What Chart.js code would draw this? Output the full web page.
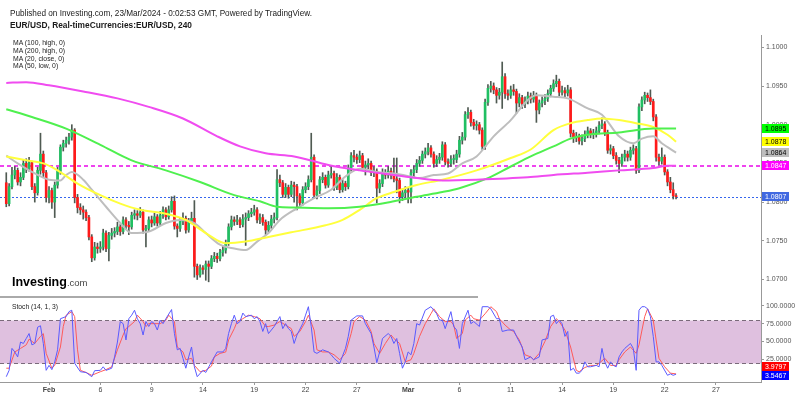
<!DOCTYPE html>
<html lang="en">
<head>
<meta charset="UTF-8">
<title>EUR/USD 240</title>
<script src="https://cdn.jsdelivr.net/npm/chart.js@4.4.1/dist/chart.umd.min.js"></script>
<style>
  html, body { margin: 0; padding: 0; background: #fff; }
  #wrap { position: relative; width: 800px; height: 397px; overflow: hidden; font-family: "Liberation Sans", Arial, sans-serif; }
  canvas { position: absolute; left: 0; }
  #priceChart { top: 0; }
  #stochChart { top: 297px; }
  .txt { position: absolute; white-space: nowrap; color: #1a1a1a; transform-origin: 0 0; z-index: 2; }
  #pub { left: 10px; top: 9px; font-size: 9px; line-height: 9px; }
  #ttl { left: 10px; top: 20px; font-size: 9.5px; line-height: 10px; font-weight: bold; }
  #mas { left: 13px; top: 39.4px; font-size: 8px; line-height: 7.6px; color: #222; }
  #stl { left: 12px; top: 302.7px; font-size: 8px; line-height: 8px; color: #222; }
  #logo { left: 12px; top: 275.7px; font-size: 12.5px; line-height: 13px; font-weight: bold; color: #000; }
  #logo span { font-weight: normal; font-size: 9.5px; color: #444; }
  #sep { position: absolute; left: 0; top: 296px; width: 478px; height: 1.5px; background: #aaa; z-index: 2; }
</style>
</head>
<body>
<div id="wrap">
  <canvas id="priceChart" width="800" height="297"></canvas>
  <canvas id="stochChart" width="800" height="100"></canvas>
  <div id="sep"></div>
  <div class="txt" id="pub" data-w="302">Published on Investing.com, 23/Mar/2024 - 0:02:53 GMT, Powered by TradingView.</div>
  <div class="txt" id="ttl" data-w="182">EUR/USD, Real-timeCurrencies:EUR/USD, 240</div>
  <div class="txt" id="mas" data-w="52">MA (100, high, 0)<br>MA (200, high, 0)<br>MA (20, close, 0)<br>MA (50, low, 0)</div>
  <div class="txt" id="stl" data-w="46">Stoch (14, 1, 3)</div>
  <div class="txt" id="logo">Investing<span>.com</span></div>
</div>
<script>
// ---- data: 4h bars, index 0 = 29 Jan 16:00 ----
var tickBars = [15, 33, 51, 69, 87, 105, 123, 141, 159, 177, 195, 213, 231, 249];
var tickLabels = ['Feb', '6', '9', '14', '19', '22', '27', 'Mar', '6', '11', '14', '19', '22', '27'];
var priceTicks = [1.0700, 1.0750, 1.0800, 1.0850, 1.0900, 1.0950, 1.1000];
var stochTicks = [25, 50, 75, 100];
var stochBand = [20, 80];

var opens = [
  1.0825,1.0798,1.0820,1.0835,1.0841,1.0826,1.0832,1.0850,1.0843,1.0851,
  1.0820,1.0812,1.0841,1.0862,1.0838,1.0806,1.0815,1.0800,1.0822,1.0840,
  1.0871,1.0876,1.0880,1.0884,1.0893,1.0806,1.0793,1.0790,1.0787,1.0780,
  1.0755,1.0728,1.0742,1.0740,1.0742,1.0760,1.0740,1.0757,1.0760,1.0762,
  1.0768,1.0762,1.0777,1.0770,1.0768,1.0783,1.0785,1.0783,1.0787,1.0764,
  1.0766,1.0777,1.0773,1.0781,1.0773,1.0783,1.0790,1.0781,1.0790,1.0801,
  1.0769,1.0766,1.0775,1.0779,1.0764,1.0775,1.0779,1.0717,1.0706,1.0715,
  1.0713,1.0720,1.0717,1.0727,1.0730,1.0727,1.0735,1.0738,1.0747,1.0768,
  1.0777,1.0775,1.0777,1.0771,1.0778,1.0780,1.0785,1.0787,1.0790,1.0777,
  1.0780,1.0774,1.0764,1.0770,1.0778,1.0780,1.0829,1.0825,1.0810,1.0819,
  1.0810,1.0822,1.0820,1.0808,1.0799,1.0816,1.0820,1.0829,1.0858,1.0809,
  1.0815,1.0829,1.0832,1.0822,1.0835,1.0837,1.0819,1.0832,1.0816,1.0824,
  1.0820,1.0844,1.0860,1.0858,1.0855,1.0860,1.0845,1.0848,1.0850,1.0838,
  1.0840,1.0818,1.0824,1.0838,1.0835,1.0840,1.0835,1.0830,1.0828,1.0807,
  1.0812,1.0815,1.0813,1.0838,1.0842,1.0850,1.0854,1.0862,1.0865,1.0870,
  1.0862,1.0850,1.0855,1.0858,1.0874,1.0852,1.0850,1.0855,1.0855,1.0862,
  1.0880,1.0884,1.0913,1.0916,1.0903,1.0899,1.0900,1.0893,1.0872,1.0929,
  1.0947,1.0950,1.0945,1.0938,1.0942,1.0962,1.0940,1.0938,1.0945,1.0943,
  1.0928,1.0935,1.0927,1.0931,1.0937,1.0933,1.0938,1.0919,1.0928,1.0931,
  1.0934,1.0940,1.0947,1.0953,1.0956,1.0942,1.0944,1.0941,1.0945,1.0889,
  1.0883,1.0884,1.0879,1.0882,1.0887,1.0892,1.0888,1.0888,1.0892,1.0899,
  1.0901,1.0890,1.0867,1.0869,1.0860,1.0854,1.0850,1.0858,1.0862,1.0858,
  1.0867,1.0869,1.0841,1.0923,1.0932,1.0938,1.0935,1.0930,1.0910,1.0858,
  1.0853,1.0858,1.0839,1.0826,1.0816,1.0808
];
var highs = [
  1.0838,1.0824,1.0845,1.0846,1.0844,1.0838,1.0854,1.0856,1.0858,1.0853,
  1.0824,1.0845,1.0889,1.0866,1.0841,1.0820,1.0818,1.0826,1.0845,1.0874,
  1.0880,1.0884,1.0889,1.0900,1.0895,1.0810,1.0798,1.0795,1.0790,1.0783,
  1.0758,1.0748,1.0747,1.0749,1.0765,1.0763,1.0761,1.0766,1.0767,1.0774,
  1.0771,1.0781,1.0780,1.0775,1.0787,1.0790,1.0789,1.0793,1.0790,1.0770,
  1.0781,1.0782,1.0786,1.0784,1.0788,1.0794,1.0793,1.0795,1.0807,1.0808,
  1.0772,1.0779,1.0786,1.0782,1.0779,1.0787,1.0802,1.0720,1.0719,1.0718,
  1.0724,1.0724,1.0731,1.0735,1.0734,1.0739,1.0743,1.0751,1.0772,1.0782,
  1.0781,1.0783,1.0780,1.0784,1.0786,1.0789,1.0792,1.0796,1.0793,1.0785,
  1.0784,1.0777,1.0775,1.0783,1.0786,1.0842,1.0835,1.0828,1.0824,1.0822,
  1.0827,1.0826,1.0823,1.0811,1.0820,1.0825,1.0834,1.0889,1.0861,1.0821,
  1.0833,1.0838,1.0835,1.0840,1.0846,1.0840,1.0837,1.0835,1.0829,1.0827,
  1.0848,1.0864,1.0867,1.0862,1.0866,1.0863,1.0853,1.0856,1.0853,1.0846,
  1.0843,1.0829,1.0843,1.0842,1.0846,1.0844,1.0857,1.0857,1.0831,1.0817,
  1.0820,1.0819,1.0842,1.0847,1.0855,1.0859,1.0866,1.0870,1.0876,1.0873,
  1.0865,1.0860,1.0863,1.0878,1.0877,1.0856,1.0860,1.0861,1.0867,1.0885,
  1.0890,1.0917,1.0922,1.0919,1.0907,1.0905,1.0903,1.0896,1.0933,1.0952,
  1.0956,1.0954,1.0948,1.0947,1.0981,1.0966,1.0945,1.0950,1.0952,1.0946,
  1.0940,1.0938,1.0936,1.0942,1.0941,1.0943,1.0941,1.0932,1.0936,1.0939,
  1.0945,1.0951,1.0958,1.0964,1.0959,1.0950,1.0948,1.0951,1.0948,1.0893,
  1.0890,1.0888,1.0887,1.0892,1.0897,1.0895,1.0894,1.0897,1.0904,1.0909,
  1.0904,1.0893,1.0874,1.0872,1.0864,1.0858,1.0862,1.0867,1.0866,1.0871,
  1.0874,1.0872,1.0927,1.0936,1.0942,1.0941,1.0945,1.0933,1.0913,1.0862,
  1.0870,1.0861,1.0842,1.0832,1.0825,1.0811
];
var lows = [
  1.0794,1.0795,1.0817,1.0830,1.0822,1.0821,1.0829,1.0838,1.0840,1.0816,
  1.0800,1.0809,1.0836,1.0833,1.0800,1.0799,1.0792,1.0780,1.0818,1.0836,
  1.0866,1.0871,1.0875,1.0880,1.0799,1.0786,1.0784,1.0778,1.0776,1.0751,
  1.0723,1.0725,1.0734,1.0735,1.0738,1.0736,1.0724,1.0752,1.0755,1.0758,
  1.0757,1.0759,1.0765,1.0758,1.0765,1.0778,1.0777,1.0780,1.0760,1.0742,
  1.0763,1.0768,1.0770,1.0769,1.0770,1.0779,1.0777,1.0778,1.0787,1.0765,
  1.0755,1.0762,1.0771,1.0760,1.0761,1.0772,1.0703,1.0700,1.0703,1.0707,
  1.0699,1.0697,1.0714,1.0723,1.0722,1.0724,1.0730,1.0734,1.0744,1.0764,
  1.0770,1.0771,1.0767,1.0768,1.0744,1.0776,1.0781,1.0783,1.0773,1.0772,
  1.0770,1.0758,1.0761,1.0766,1.0773,1.0777,1.0820,1.0806,1.0806,1.0805,
  1.0807,1.0800,1.0790,1.0795,1.0796,1.0812,1.0816,1.0826,1.0805,1.0804,
  1.0811,1.0825,1.0818,1.0819,1.0831,1.0815,1.0816,1.0812,1.0813,1.0815,
  1.0817,1.0840,1.0852,1.0850,1.0851,1.0841,1.0835,1.0843,1.0834,1.0833,
  1.0799,1.0812,1.0820,1.0830,1.0831,1.0830,1.0826,1.0812,1.0799,1.0802,
  1.0806,1.0799,1.0799,1.0833,1.0838,1.0846,1.0850,1.0857,1.0861,1.0858,
  1.0845,1.0846,1.0850,1.0854,1.0848,1.0845,1.0846,1.0849,1.0851,1.0858,
  1.0875,1.0880,1.0908,1.0898,1.0894,1.0893,1.0888,1.0868,1.0868,1.0925,
  1.0942,1.0940,1.0928,1.0933,1.0921,1.0934,1.0932,1.0934,1.0938,1.0915,
  1.0923,1.0921,1.0922,1.0927,1.0928,1.0929,1.0903,1.0914,1.0923,1.0926,
  1.0930,1.0936,1.0943,1.0949,1.0937,1.0938,1.0936,1.0937,1.0884,1.0877,
  1.0878,1.0875,1.0874,1.0878,1.0883,1.0883,1.0882,1.0884,1.0888,1.0895,
  1.0886,1.0863,1.0862,1.0856,1.0849,1.0838,1.0846,1.0853,1.0853,1.0854,
  1.0862,1.0837,1.0838,1.0918,1.0927,1.0930,1.0926,1.0905,1.0853,1.0848,
  1.0849,1.0835,1.0821,1.0812,1.0804,1.0804
];
var closes = [
  1.0798,1.0820,1.0835,1.0841,1.0826,1.0832,1.0850,1.0843,1.0851,1.0820,
  1.0812,1.0841,1.0862,1.0838,1.0806,1.0815,1.0800,1.0822,1.0840,1.0871,
  1.0876,1.0880,1.0884,1.0893,1.0806,1.0793,1.0790,1.0787,1.0780,1.0755,
  1.0728,1.0742,1.0740,1.0742,1.0760,1.0740,1.0757,1.0760,1.0762,1.0768,
  1.0762,1.0777,1.0770,1.0768,1.0783,1.0785,1.0783,1.0787,1.0764,1.0766,
  1.0777,1.0773,1.0781,1.0773,1.0783,1.0790,1.0781,1.0790,1.0801,1.0769,
  1.0766,1.0775,1.0779,1.0764,1.0775,1.0779,1.0717,1.0706,1.0715,1.0713,
  1.0720,1.0717,1.0727,1.0730,1.0727,1.0735,1.0738,1.0747,1.0768,1.0777,
  1.0775,1.0777,1.0771,1.0778,1.0780,1.0785,1.0787,1.0790,1.0777,1.0780,
  1.0774,1.0764,1.0770,1.0778,1.0780,1.0829,1.0825,1.0810,1.0819,1.0810,
  1.0822,1.0820,1.0808,1.0799,1.0816,1.0820,1.0829,1.0858,1.0809,1.0815,
  1.0829,1.0832,1.0822,1.0835,1.0837,1.0819,1.0832,1.0816,1.0824,1.0820,
  1.0844,1.0860,1.0858,1.0855,1.0860,1.0845,1.0848,1.0850,1.0838,1.0840,
  1.0818,1.0824,1.0838,1.0835,1.0840,1.0835,1.0830,1.0828,1.0807,1.0812,
  1.0815,1.0813,1.0838,1.0842,1.0850,1.0854,1.0862,1.0865,1.0870,1.0862,
  1.0850,1.0855,1.0858,1.0874,1.0852,1.0850,1.0855,1.0855,1.0862,1.0880,
  1.0884,1.0913,1.0916,1.0903,1.0899,1.0900,1.0893,1.0872,1.0929,1.0947,
  1.0950,1.0945,1.0938,1.0942,1.0962,1.0940,1.0938,1.0945,1.0943,1.0928,
  1.0935,1.0927,1.0931,1.0937,1.0933,1.0938,1.0919,1.0928,1.0931,1.0934,
  1.0940,1.0947,1.0953,1.0956,1.0942,1.0944,1.0941,1.0945,1.0889,1.0883,
  1.0884,1.0879,1.0882,1.0887,1.0892,1.0888,1.0888,1.0892,1.0899,1.0901,
  1.0890,1.0867,1.0869,1.0860,1.0854,1.0850,1.0858,1.0862,1.0858,1.0867,
  1.0869,1.0841,1.0923,1.0932,1.0938,1.0935,1.0930,1.0910,1.0858,1.0853,
  1.0858,1.0839,1.0826,1.0816,1.0808,1.0807
];

// moving averages as [bar, value]
var ma100 = [[0,1.0920],[9,1.0910],[21,1.0895],[33,1.0874],[44,1.0854],[56,1.0841],[68,1.0826],[80,1.0809],
  [89,1.0801],[95,1.0794],[101,1.0793],[113,1.0792],[124,1.0794],[136,1.0801],[144,1.0807],[153,1.0813],
  [159,1.0818],[169,1.0831],[177,1.0846],[184,1.0859],[192,1.0872],[198,1.0882],[204,1.0887],[215,1.0890],
  [227,1.0895],[235,1.0895]];
var ma200 = [[0,1.0954],[7,1.0955],[15,1.0951],[27,1.0943],[39,1.0934],[50,1.0923],[62,1.0908],[74,1.0885],
  [82,1.0872],[91,1.0863],[101,1.0859],[113,1.0848],[124,1.0841],[136,1.0835],[144,1.0831],[153,1.0828],
  [165,1.0829],[183,1.0832],[192,1.0835],[204,1.0838],[215,1.0841],[227,1.0844],[232,1.0847],[235,1.0847]];
var ma20 = [[0,1.0860],[4,1.0850],[9,1.0839],[15,1.0829],[19,1.0828],[21,1.0835],[23,1.0839],[27,1.0829],
  [30,1.0816],[35,1.0794],[40,1.0773],[44,1.0760],[50,1.0762],[56,1.0773],[61,1.0777],[66,1.0773],[70,1.0760],
  [75,1.0745],[80,1.0740],[84,1.0738],[88,1.0749],[92,1.0760],[96,1.0777],[102,1.0792],[108,1.0805],
  [114,1.0816],[119,1.0833],[124,1.0843],[130,1.0839],[136,1.0837],[142,1.0833],[145,1.0831],[150,1.0835],
  [155,1.0837],[160,1.0850],[165,1.0859],[171,1.0885],[177,1.0906],[183,1.0932],[186,1.0938],[192,1.0936],
  [197,1.0934],[204,1.0921],[209,1.0913],[215,1.0885],[220,1.0876],[223,1.0882],[227,1.0885],[230,1.0876],
  [235,1.0864]];
var ma50 = [[0,1.0859],[7,1.0854],[13,1.0850],[18,1.0841],[25,1.0824],[33,1.0809],[40,1.0798],[47,1.0790],
  [56,1.0785],[63,1.0777],[70,1.0760],[77,1.0747],[84,1.0749],[92,1.0755],[100,1.0761],[112,1.0770],
  [118,1.0777],[124,1.0790],[130,1.0805],[136,1.0813],[144,1.0822],[153,1.0829],[165,1.0841],[177,1.0857],
  [184,1.0868],[192,1.0893],[198,1.0902],[204,1.0906],[209,1.0908],[215,1.0906],[221,1.0902],[227,1.0897],
  [232,1.0887],[235,1.0878]];

// stochastic (14, 1, 3): %K and %D as [bar, value]
var stochK = [[0,0],[1,9],[2,40],[3,35],[4,28],[5,49],[6,47],[7,54],[8,61],[9,45],[10,47],[11,70],[12,72],
  [13,47],[14,9],[15,16],[16,10],[17,21],[18,38],[19,82],[21,85],[22,92],[23,94],[24,19],[26,7],[28,6],
  [30,0],[31,8.5],[33,9],[34,14],[35,9],[37,12],[38,28],[39,49],[40,78],[41,75],[42,52],[43,82],[44,87],
  [45,94],[46,82],[47,75],[48,59],[49,78],[50,71],[51,78],[52,75],[53,66],[54,80],[55,75],[56,82],[58,95],
  [59,61],[60,38],[61,40],[62,26],[63,12],[64,28],[65,42],[66,14],[67,0],[69,9],[70,6],[72,21],[73,28],
  [74,35],[76,35],[77,40],[78,61],[79,75],[80,87],[81,75],[82,78],[83,90],[84,85],[86,87],[87,82],[88,85],
  [89,78],[90,64],[91,75],[92,61],[94,71],[95,78],[96,85],[97,68],[98,75],[99,68],[100,64],[101,47],[102,59],
  [104,75],[105,87],[106,99],[107,71],[108,35],[109,33],[111,38],[113,35],[114,31],[115,26],[117,19],
  [119,40],[120,57],[121,80],[123,86],[125,86],[126,75],[128,61],[129,42],[130,20],[131,35],[132,54],
  [134,61],[135,57],[136,47],[137,54],[138,33],[139,12],[140,21],[141,35],[142,31],[143,47],[144,75],
  [145,73],[147,94],[149,99],[151,89],[152,80],[153,80],[154,68],[156,92],[157,71],[158,66],[159,40],
  [160,75],[162,94],[163,75],[164,78],[166,71],[167,99],[169,99],[170,96],[172,82],[173,82],[174,64],
  [176,66],[178,66],[179,57],[181,42],[182,24],[184,28],[185,24],[187,28],[188,52],[190,54],[191,85],
  [192,87],[193,75],[194,80],[195,75],[196,57],[197,64],[198,9],[199,12],[200,5],[201,5],[202,9],[203,21],
  [204,14],[205,14],[207,16],[208,14],[209,40],[210,21],[211,12],[212,21],[213,16],[214,14],[215,28],
  [216,35],[217,40],[219,47],[220,40],[221,9],[222,94],[223,99],[224,99],[225,96],[226,85],[227,57],
  [228,21],[229,21],[230,16],[232,2],[233,4],[234,2],[235,3.5467]];
var stochD = [[0,12],[1,12],[3,35],[5,40],[7,45],[8,53],[10,47],[12,57],[13,61],[14,33],[16,12],[17,16],
  [19,42],[20,71],[21,87],[23,92],[24,85],[25,38],[26,9],[28,6],[30,2],[33,7],[35,10],[37,14],[39,38],
  [41,59],[42,68],[43,71],[45,78],[46,87],[48,78],[49,71],[50,75],[52,75],[54,75],[56,80],[57,87],[59,78],
  [60,42],[62,35],[63,24],[65,26],[66,16],[68,7],[70,9],[72,15],[73,28],[75,33],[77,35],[78,52],[80,68],
  [81,78],[83,82],[85,87],[87,85],[89,82],[91,71],[92,71],[94,73],[96,78],[98,73],[100,68],[101,57],
  [103,64],[105,78],[106,87],[108,66],[109,38],[111,35],[113,35],[115,31],[117,24],[119,33],[121,61],
  [122,78],[124,85],[126,80],[128,64],[129,47],[131,33],[133,47],[135,59],[136,54],[138,47],[140,21],
  [142,24],[143,33],[145,57],[147,75],[149,89],[150,96],[152,85],[154,78],[156,78],[157,73],[158,54],
  [160,61],[161,80],[163,87],[164,82],[166,80],[168,89],[170,99],[172,92],[173,82],[175,73],[177,66],
  [178,64],[180,52],[182,31],[184,28],[185,24],[187,33],[189,50],[191,71],[193,82],[194,78],[196,66],
  [198,42],[200,9],[201,7],[203,13],[205,16],[207,16],[208,19],[210,26],[212,16],[214,16],[215,24],
  [217,35],[219,42],[221,33],[222,45],[224,85],[225,96],[227,80],[228,52],[229,26],[231,14],[233,5],
  [235,3.9797]];

// ---- styling ----
var UP = '#20bf62', DOWN = '#ff1a1a', WICK = '#4f5a52';
var FONT = '"Liberation Sans", Arial, sans-serif';
var X_MIN = -2.2, X_MAX = 264.8;

function pts(list) {
  return list.map(function (p) { return {x: p[0], y: p[1]}; });
}
function last(list) { return list[list.length - 1][1]; }

function maLine(list, color) {
  return {
    type: 'line', data: pts(list), borderColor: color, borderWidth: 2,
    pointRadius: 0, cubicInterpolationMode: 'monotone', order: 0
  };
}

function drawTag(ctx, x, y, bg, fg, text) {
  ctx.fillStyle = bg;
  ctx.fillRect(x, Math.round(y - 4.5), 27, 9);
  ctx.fillStyle = fg;
  ctx.font = '7px ' + FONT;
  ctx.textBaseline = 'middle';
  ctx.textAlign = 'left';
  ctx.fillText(text, x + 3, y + 0.5);
}

// no edge padding: keep the plot area exactly where the canvas puts it
function noPad(s) {
  s.paddingTop = 0; s.paddingBottom = 0; s.paddingLeft = 0; s.paddingRight = 0;
}

var priceDecor = {
  id: 'priceDecor',
  beforeDatasetsDraw: function (chart) {
    var ctx = chart.ctx, a = chart.chartArea, y = chart.scales.y;
    ctx.save();
    var ym = Math.round(y.getPixelForValue(last(ma200)));
    ctx.strokeStyle = '#ee44ee';
    ctx.lineWidth = 2;
    ctx.setLineDash([4, 3]);
    ctx.beginPath(); ctx.moveTo(a.left, ym); ctx.lineTo(a.right, ym); ctx.stroke();
    var yc = Math.round(y.getPixelForValue(closes[closes.length - 1])) + 0.5;
    ctx.strokeStyle = '#3566ee';
    ctx.lineWidth = 1;
    ctx.setLineDash([2, 2]);
    ctx.beginPath(); ctx.moveTo(a.left, yc); ctx.lineTo(a.right, yc); ctx.stroke();
    ctx.restore();
  },
  afterDraw: function (chart) {
    var ctx = chart.ctx, a = chart.chartArea, y = chart.scales.y;
    ctx.save();
    drawTag(ctx, a.right + 1, y.getPixelForValue(last(ma100)), '#00ff00', '#000', last(ma100).toFixed(4));
    drawTag(ctx, a.right + 1, y.getPixelForValue(last(ma50)), '#ffff00', '#000', last(ma50).toFixed(4));
    drawTag(ctx, a.right + 1, y.getPixelForValue(last(ma20)), '#bdbdbd', '#000', last(ma20).toFixed(4));
    drawTag(ctx, a.right + 1, y.getPixelForValue(last(ma200)), '#ff00ff', '#fff', last(ma200).toFixed(4));
    var c = closes[closes.length - 1];
    drawTag(ctx, a.right + 1, y.getPixelForValue(c), '#4169e1', '#fff', c.toFixed(4));
    ctx.restore();
  }
};

var stochDecor = {
  id: 'stochDecor',
  beforeDatasetsDraw: function (chart) {
    var ctx = chart.ctx, a = chart.chartArea, y = chart.scales.y;
    var yt = Math.round(y.getPixelForValue(stochBand[1])) + 0.5;
    var yb = Math.round(y.getPixelForValue(stochBand[0])) + 0.5;
    ctx.save();
    ctx.fillStyle = '#dfc0df';
    ctx.fillRect(a.left, yt, a.right - a.left, yb - yt);
    ctx.strokeStyle = '#7a6a7a';
    ctx.lineWidth = 1;
    ctx.setLineDash([4, 3]);
    ctx.beginPath();
    ctx.moveTo(a.left, yt); ctx.lineTo(a.right, yt);
    ctx.moveTo(a.left, yb); ctx.lineTo(a.right, yb);
    ctx.stroke();
    ctx.restore();
  },
  afterDraw: function (chart) {
    var ctx = chart.ctx, a = chart.chartArea, y = chart.scales.y;
    var k = last(stochK), d = last(stochD);
    var yk = y.getPixelForValue(k) + 1.5;
    ctx.save();
    drawTag(ctx, a.right + 1, yk, '#0000ff', '#fff', k.toFixed(4));
    drawTag(ctx, a.right + 1, yk - 9, '#ff0000', '#fff', d.toFixed(4));
    ctx.restore();
  }
};

function rightAxis(min, max, ticks) {
  return {
    position: 'right', min: min, max: max,
    afterFit: function (s) { s.width = 39; noPad(s); },
    afterBuildTicks: function (s) { s.ticks = ticks.map(function (v) { return {value: v}; }); },
    grid: {drawOnChartArea: false, drawTicks: true, tickLength: 3, color: '#999'},
    border: {display: true, color: '#999'},
    ticks: {
      padding: 2, color: '#555', font: {family: FONT, size: 7},
      callback: function (v) { return Number(v).toFixed(4); }
    }
  };
}

var baseOptions = {
  responsive: false, animation: false, devicePixelRatio: 1, events: [],
  plugins: {legend: {display: false}, tooltip: {enabled: false}}
};

var bodyData = closes.map(function (c, i) { return {x: i, y: [opens[i], c]}; });
var wickData = closes.map(function (c, i) { return {x: i, y: [lows[i], highs[i]]}; });
var bodyColors = closes.map(function (c, i) { return c >= opens[i] ? UP : DOWN; });

new Chart(document.getElementById('priceChart').getContext('2d'), {
  type: 'bar',
  data: {
    datasets: [
      maLine(ma200, '#f04cf0'),
      maLine(ma100, '#4ff04f'),
      maLine(ma50, '#ffff3c'),
      maLine(ma20, '#bebebe'),
      {type: 'bar', data: bodyData, backgroundColor: bodyColors, barThickness: 2, grouped: false,
        minBarLength: 1, borderWidth: 0, order: 2},
      {type: 'bar', data: wickData, backgroundColor: WICK, barThickness: 1, grouped: false,
        borderWidth: 0, order: 3}
    ]
  },
  options: Object.assign({}, baseOptions, {
    layout: {padding: {top: 35, left: 0, right: 0, bottom: 0}},
    scales: {
      x: {type: 'linear', min: X_MIN, max: X_MAX, offset: false, display: false},
      y: rightAxis(1.06774, 1.10159, priceTicks)
    }
  }),
  plugins: [priceDecor]
});

new Chart(document.getElementById('stochChart').getContext('2d'), {
  type: 'line',
  data: {
    datasets: [
      {data: pts(stochK), borderColor: '#5a5aff', borderWidth: 1, pointRadius: 0, order: 0},
      {data: pts(stochD), borderColor: '#ff5a5a', borderWidth: 1, pointRadius: 0, order: 1}
    ]
  },
  options: Object.assign({}, baseOptions, {
    layout: {padding: 0},
    scales: {
      x: {
        type: 'linear', min: X_MIN, max: X_MAX, offset: false,
        afterFit: function (s) { s.height = 15; noPad(s); },
        afterBuildTicks: function (s) { s.ticks = tickBars.map(function (v) { return {value: v}; }); },
        grid: {drawOnChartArea: false, drawTicks: true, tickLength: 3, color: '#999'},
        border: {display: true, color: '#999'},
        ticks: {
          autoSkip: false, maxRotation: 0, padding: 1, color: '#444',
          font: function (c) {
            var lbl = c.tick ? tickLabels[tickBars.indexOf(c.tick.value)] : '';
            return {family: FONT, size: 7, weight: (lbl === 'Feb' || lbl === 'Mar') ? 'bold' : 'normal'};
          },
          callback: function (v) { return tickLabels[tickBars.indexOf(v)]; }
        }
      },
      y: rightAxis(-7.5, 112.7, stochTicks)
    }
  }),
  plugins: [stochDecor]
});

// squeeze the header texts to the width they take in the original picture
document.querySelectorAll('[data-w]').forEach(function (el) {
  var w = el.getBoundingClientRect().width;
  el.style.transform = 'scaleX(' + (el.dataset.w / w) + ')';
});
</script>
</body>
</html>
